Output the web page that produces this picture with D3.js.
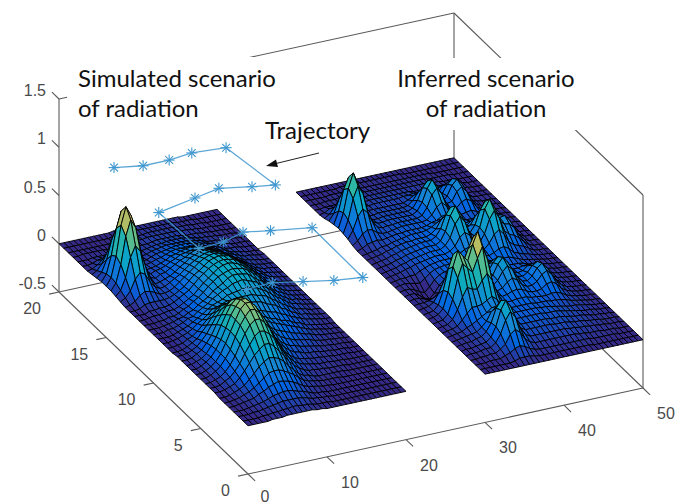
<!DOCTYPE html>
<html>
<head>
<meta charset="utf-8">
<script src="https://cdn.jsdelivr.net/npm/d3@7"></script>
<style>
  html, body { margin: 0; padding: 0; background: #fff; }
  svg { display: block; }
</style>
</head>
<body>
<div id="chart"></div>
<script>
const xTicks = [0, 10, 20, 30, 40, 50];
const yTicks = [0, 5, 10, 15, 20];
const zTicks = [-0.5, 0, 0.5, 1, 1.5];

// x and y of the 33 x 41 mesh rows, per surface
const leftX = [0, 20];
const rightX = [30, 50];
const surfaceY = [0, 20];

// surface heights, in hundredths; first row is y = 0
const simulated = [
  [0,0,0,0,0,1,1,1,2,2,2,2,2,2,1,1,0,0,0,0,0,0,0,0,0,0,0,0,0,0,0,0,0],
  [0,0,0,0,1,1,2,2,3,3,4,4,3,3,2,1,1,1,0,0,0,0,0,0,0,0,0,0,0,0,0,0,0],
  [0,0,0,1,1,2,3,4,5,6,6,6,6,5,4,2,2,1,1,0,0,0,0,0,0,0,0,0,0,0,0,0,0],
  [0,0,0,1,2,3,4,6,8,9,10,10,9,7,6,4,2,1,1,0,0,0,0,0,0,0,0,0,0,0,0,0,0],
  [0,0,1,2,3,4,7,9,12,14,16,15,14,12,9,6,4,3,2,1,1,0,0,0,0,0,0,0,0,0,0,0,0],
  [0,0,1,2,4,6,9,13,17,21,22,22,20,17,14,10,6,4,3,2,1,1,1,1,0,0,0,0,0,0,0,0,0],
  [0,0,1,3,5,8,13,18,24,28,31,30,28,24,18,13,8,5,4,2,1,1,1,1,1,1,0,0,0,0,0,0,0],
  [1,1,2,4,6,11,17,24,31,36,40,40,36,30,24,17,12,8,5,3,3,2,2,1,1,1,1,0,0,0,0,0,0],
  [1,1,2,5,8,13,20,29,37,45,49,48,44,38,29,21,15,10,7,5,4,3,2,2,2,1,1,1,0,0,0,0,0],
  [1,1,3,5,9,15,23,34,44,52,56,56,51,44,34,25,17,12,8,6,5,4,3,3,2,2,1,1,1,1,0,0,0],
  [1,1,3,6,10,17,25,37,48,56,62,61,56,49,38,28,20,15,11,8,7,5,4,4,3,2,2,1,1,1,0,0,0],
  [1,1,3,6,10,17,27,38,49,59,64,64,59,51,41,31,22,17,13,10,9,7,6,5,4,3,2,2,1,1,1,0,0],
  [1,1,3,6,10,17,26,37,49,57,63,63,58,52,42,32,25,20,16,13,11,9,8,7,6,4,3,2,2,1,1,0,0],
  [1,1,3,5,9,16,24,35,45,54,59,59,56,50,41,33,26,22,18,16,14,12,10,9,7,6,4,3,2,2,1,1,0],
  [1,1,2,5,8,14,21,31,40,48,53,54,52,47,40,33,28,24,21,19,17,15,13,11,9,7,5,4,3,2,1,1,0],
  [1,1,2,4,7,12,18,26,34,40,44,46,44,40,36,30,27,24,22,19,18,15,14,12,9,8,5,4,3,2,1,1,0],
  [0,0,1,3,6,9,15,21,28,33,38,39,38,37,33,31,27,25,24,22,20,19,16,14,11,9,7,5,4,3,2,1,1],
  [0,0,1,2,5,7,11,16,21,26,30,32,33,33,32,30,29,29,28,27,24,22,20,16,14,10,8,5,5,3,2,1,1],
  [0,0,1,2,4,6,9,13,16,20,25,26,28,30,30,31,31,31,31,29,28,26,22,19,15,12,9,6,5,4,2,2,1],
  [0,0,0,1,3,5,7,10,13,16,20,23,25,27,30,31,32,33,34,32,31,28,25,21,17,14,10,7,6,4,3,2,1],
  [0,0,0,2,2,4,6,9,10,14,17,20,24,27,30,32,35,36,37,35,33,31,26,23,19,14,11,8,5,5,3,2,1],
  [0,0,0,1,2,3,5,6,9,11,15,18,21,26,29,32,36,38,38,37,36,32,28,25,20,15,11,9,6,4,3,2,1],
  [0,0,0,1,1,3,3,5,8,10,14,17,21,26,30,34,36,38,39,38,37,34,30,26,20,16,12,9,6,4,3,2,1],
  [0,0,1,2,2,3,4,4,6,9,12,15,20,25,29,33,37,39,40,39,37,34,30,26,20,16,12,9,6,4,3,2,1],
  [0,0,0,2,2,3,3,4,6,9,12,15,20,25,29,33,36,38,39,38,37,34,30,26,20,16,12,9,6,4,3,2,1],
  [0,0,1,4,5,5,5,5,6,8,11,14,19,24,27,31,35,37,38,37,36,32,28,25,20,15,11,9,6,4,3,2,1],
  [0,1,4,9,12,11,9,6,6,7,10,14,18,22,26,30,33,35,36,35,33,31,26,23,19,14,11,8,5,4,3,2,1],
  [1,4,10,21,27,24,15,9,6,7,10,13,16,20,24,27,30,32,33,32,31,28,25,21,17,14,10,7,5,3,3,2,1],
  [2,7,19,39,50,43,27,13,6,7,9,11,14,18,21,25,27,29,30,29,27,25,22,19,15,12,9,6,4,3,2,2,1],
  [3,10,28,56,72,63,38,18,8,6,9,10,13,16,19,21,24,26,26,26,24,22,20,16,13,10,8,5,4,3,2,1,1],
  [3,11,32,63,81,71,42,19,7,6,8,9,11,14,16,19,20,21,22,21,20,19,16,14,11,9,7,5,3,3,2,1,1],
  [3,10,28,55,72,63,37,17,7,5,6,7,9,11,14,15,17,18,19,18,17,15,14,12,9,8,5,4,3,2,1,1,0],
  [2,7,19,38,49,43,26,11,4,4,5,6,8,9,11,13,14,14,14,14,14,13,11,9,8,6,4,3,3,2,1,1,0],
  [1,4,10,20,26,24,14,7,3,3,3,4,6,8,9,10,11,12,12,12,11,10,9,8,6,5,3,3,2,1,1,1,0],
  [0,1,4,8,11,9,7,3,2,2,3,3,4,6,7,8,9,9,9,9,9,8,7,6,4,3,3,2,2,1,1,0,0],
  [0,0,1,3,4,3,3,2,1,2,2,3,3,4,5,6,6,7,7,7,7,6,5,4,3,3,2,2,1,1,1,0,0],
  [0,0,0,1,1,1,1,1,1,1,2,2,3,3,3,4,5,5,5,5,5,4,3,3,3,2,2,1,1,1,0,0,0],
  [0,0,1,1,1,1,1,0,1,1,1,2,2,3,3,4,4,4,4,4,4,4,3,3,2,2,1,1,1,0,0,0,0],
  [0,0,0,0,0,0,0,0,0,1,1,1,1,2,2,2,3,3,3,3,3,3,2,2,2,1,1,1,0,0,0,0,0],
  [0,0,0,0,0,0,0,0,0,0,1,1,1,1,1,2,2,2,2,2,2,2,2,1,1,1,1,0,0,0,0,0,0],
  [0,0,0,0,0,0,0,0,0,0,0,1,1,1,1,1,1,1,1,1,1,1,1,1,1,0,0,0,0,0,0,0,0]
];

const inferred = [
  [0,0,0,0,0,0,0,0,0,0,0,0,0,0,0,0,0,0,0,0,0,0,0,0,0,0,0,0,0,0,0,0,0],
  [0,0,0,0,0,0,0,1,3,3,3,2,1,1,1,1,1,1,1,1,1,1,1,0,0,0,0,0,0,0,0,0,0],
  [0,0,0,1,1,1,3,5,8,10,8,5,3,2,2,2,2,2,2,2,2,2,2,2,1,1,1,1,1,0,0,0,0],
  [0,0,1,1,2,2,5,9,18,22,18,10,6,4,4,4,4,4,4,4,4,4,3,3,2,2,2,1,1,1,0,0,0],
  [0,1,1,2,3,3,7,15,28,36,29,16,9,6,6,6,6,6,6,6,6,5,5,4,4,3,3,2,2,1,1,1,0],
  [0,1,1,2,3,4,8,18,34,43,35,20,11,8,8,8,8,8,8,7,7,7,6,5,5,4,3,3,2,1,1,1,0],
  [0,1,2,2,4,5,9,17,31,38,32,19,12,9,9,9,9,9,9,8,8,8,7,6,5,5,4,3,2,2,1,1,0],
  [0,1,2,3,4,5,9,14,23,27,25,17,12,10,10,10,10,10,10,9,9,9,8,7,6,5,4,3,3,2,1,1,0],
  [0,1,2,3,6,8,11,14,17,21,21,17,13,11,11,11,11,11,11,10,10,9,8,7,6,5,5,4,3,2,1,1,0],
  [0,1,2,4,9,15,20,20,21,24,27,23,16,12,11,11,11,11,11,10,10,10,9,9,8,7,5,4,3,2,1,1,0],
  [0,1,2,6,15,27,36,33,32,40,46,38,24,15,12,12,13,13,13,11,11,10,10,11,11,9,6,4,3,2,1,1,0],
  [0,1,2,7,21,42,56,50,45,58,69,55,31,17,13,14,16,17,16,13,11,11,12,16,17,14,8,5,3,2,1,1,0],
  [0,1,3,8,24,49,65,58,52,68,80,64,35,18,14,16,21,24,21,15,12,12,15,21,24,19,11,6,3,2,1,1,0],
  [0,1,2,7,21,42,56,50,45,58,69,55,31,17,15,19,27,32,27,18,13,12,16,23,27,21,12,6,3,2,1,1,0],
  [0,1,2,5,13,24,34,32,32,40,46,38,24,15,14,20,30,36,30,19,13,12,15,21,24,19,11,6,3,2,1,1,0],
  [0,1,1,2,4,8,15,17,18,23,26,23,17,13,14,19,27,32,27,18,13,11,12,16,17,14,8,5,3,2,1,1,0],
  [0,1,1,-1,-3,-3,2,8,11,14,16,15,13,12,13,16,21,24,21,15,12,10,10,11,11,9,6,4,3,2,1,1,0],
  [0,1,1,-2,-6,-8,-3,4,9,11,13,12,12,12,12,14,16,17,16,13,11,10,9,9,8,6,5,4,3,2,1,1,0],
  [0,1,1,-1,-4,-6,-1,5,9,11,12,12,12,12,12,12,13,13,13,11,12,12,12,10,8,6,5,4,3,2,1,1,0],
  [0,1,2,1,0,-1,3,7,10,11,12,12,12,12,13,14,14,14,13,12,14,17,18,15,10,8,6,5,3,2,1,1,0],
  [0,1,2,2,3,3,6,8,10,11,12,12,12,13,15,18,20,18,15,14,19,27,31,25,16,12,10,8,5,2,1,1,0],
  [0,1,2,3,5,6,8,9,10,11,12,12,12,14,18,26,30,26,18,16,24,38,46,37,23,18,16,12,7,3,1,1,0],
  [0,1,2,3,5,6,8,9,10,11,12,12,12,15,22,35,42,35,22,18,26,44,53,43,28,24,23,18,9,4,1,1,0],
  [0,1,2,3,5,6,8,9,10,11,12,12,12,15,24,39,48,39,24,17,24,38,46,38,27,26,27,21,10,4,1,1,0],
  [0,1,2,3,5,6,8,9,10,11,12,12,12,15,22,35,42,35,22,16,19,27,31,27,21,22,23,18,9,4,1,1,0],
  [0,1,2,3,5,6,8,9,10,10,11,11,11,13,17,25,29,25,17,13,13,17,18,16,14,15,16,12,7,3,1,1,0],
  [0,1,2,3,5,5,7,8,9,10,11,11,11,12,14,17,20,18,16,12,12,11,11,9,9,9,10,8,5,2,1,1,0],
  [0,2,5,6,7,6,7,8,9,9,10,10,10,10,11,13,14,17,18,14,11,10,8,8,8,6,4,3,3,2,1,1,0],
  [1,5,11,14,13,9,7,7,8,9,10,10,10,10,10,11,15,22,26,21,14,10,9,10,11,9,6,4,2,2,1,1,0],
  [3,11,24,31,26,15,9,7,8,8,9,9,9,9,9,11,18,30,36,29,17,11,11,16,18,15,8,4,2,2,1,1,0],
  [4,17,38,50,41,20,10,7,7,8,8,8,8,8,8,11,19,32,40,32,19,12,13,22,26,20,11,5,2,1,1,1,0],
  [5,20,44,59,46,23,10,6,6,7,7,7,7,7,7,9,16,28,34,28,16,8,14,24,29,23,12,4,2,1,1,1,0],
  [4,17,38,50,40,19,8,5,5,6,6,6,6,6,6,7,11,18,22,18,11,6,12,20,25,19,10,4,2,1,1,1,0],
  [3,10,23,30,24,13,7,4,5,5,5,5,5,5,5,5,7,10,12,10,7,6,8,14,16,13,6,3,1,1,0,0,0],
  [1,4,10,13,11,6,4,4,4,4,5,5,5,5,5,5,6,6,7,5,4,4,6,7,8,6,4,2,1,1,0,0,0],
  [0,1,4,4,4,3,2,3,3,3,4,4,4,4,4,4,4,4,4,3,3,3,3,3,3,3,2,1,1,1,0,0,0],
  [0,0,1,1,1,2,2,2,3,3,3,3,3,3,3,3,3,3,3,3,3,3,3,2,2,2,1,1,1,0,0,0,0],
  [0,0,0,1,1,1,2,2,2,2,2,2,2,2,2,2,2,2,2,2,2,2,2,2,1,1,1,1,1,0,0,0,0],
  [0,0,0,0,0,1,1,1,1,1,1,1,1,1,1,1,1,1,1,1,1,1,1,1,1,1,0,0,0,0,0,0,0],
  [0,0,0,0,0,0,0,0,1,1,1,1,1,1,1,1,1,1,1,1,1,0,0,0,0,0,0,0,0,0,0,0,0],
  [0,0,0,0,0,0,0,0,0,0,0,0,0,0,0,0,0,0,0,0,0,0,0,0,0,0,0,0,0,0,0,0,0]
];

const trajectoryX = [3.5,6.7,10,13.1,17.2,18.3,15.7,12.1,8.6,3.3,3.6,6.8,9.9,12.9,17.5,17.4,14.1,10.8,7.5,4.1];
const trajectoryY = [17.1,16.7,16.7,16.9,16.7,12.4,12.7,13.2,12.8,12.2,8.2,8.3,8.8,8.4,7.85,2.4,2.7,3.2,3.7,3.6];
const trajectoryZ = 1;

const parula = ["#352a87","#0363e1","#1485d4","#06a7c6","#38b99e","#92bf73","#d9ba56","#fcce2e","#f9fb0e"];

const breedte = 678, hoogte = 504;

const svg = d3.select("#chart").append("svg")
  .attr("width", breedte)
  .attr("height", hoogte);

svg.append("defs").append("filter").attr("id", "zacht")
  .append("feGaussianBlur").attr("stdDeviation", 0.4);

// oblique projection of the 3D box: each axis moves the point on the screen
const xToPx = d3.scaleLinear().domain([0, 50]).range([248, 643]);
const xToPy = d3.scaleLinear().domain([0, 50]).range([0, -86]);
const yToPx = d3.scaleLinear().domain([0, 20]).range([0, -189]);
const yToPy = d3.scaleLinear().domain([0, 20]).range([0, -182]);
const zToPy = d3.scaleLinear().domain([-0.5, 1.5]).range([474, 281]);

const project = (x, y, z) => [xToPx(x) + yToPx(y), zToPy(z) + xToPy(x) + yToPy(y)];

const colour = d3.scaleLinear()
  .domain(parula.map((_, i) => i / (parula.length - 1)))
  .range(parula)
  .clamp(true);

const boxColour = "#5a5a5a";
const boxLine = (a, b) => svg.append("line")
  .attr("x1", project(...a)[0]).attr("y1", project(...a)[1])
  .attr("x2", project(...b)[0]).attr("y2", project(...b)[1])
  .attr("stroke", boxColour).attr("stroke-width", 1.1);

// back of the box
boxLine([0, 20, -0.5], [50, 20, -0.5]);
boxLine([50, 20, -0.5], [50, 0, -0.5]);
boxLine([50, 20, -0.5], [50, 20, 1.5]);
boxLine([0, 20, 1.5], [50, 20, 1.5]);
boxLine([50, 20, 1.5], [50, 0, 1.5]);
boxLine([0, 20, -0.5], [0, 20, 1.5]);
boxLine([50, 0, -0.5], [50, 0, 1.5]);

function drawSurface(heights, xDomain) {
  const rows = heights.length, cols = heights[0].length;
  const colX = d3.scaleLinear().domain([0, cols - 1]).range(xDomain);
  const rowY = d3.scaleLinear().domain([0, rows - 1]).range(surfaceY);
  const cells = [];
  // far cells first so the near ones paint over them
  for (let j = rows - 2; j >= 0; j--) {
    for (let i = cols - 2; i >= 0; i--) {
      const corners = [[i, j], [i + 1, j], [i + 1, j + 1], [i, j + 1]];
      cells.push({
        points: corners.map(([a, b]) => project(colX(a), rowY(b), heights[b][a] / 100)),
        z: d3.mean(corners, ([a, b]) => heights[b][a] / 100)
      });
    }
  }
  svg.append("g")
    .attr("filter", "url(#zacht)")
    .selectAll("path")
    .data(cells)
    .join("path")
    .attr("d", d => "M" + d.points.join("L") + "Z")
    .attr("fill", d => colour(d.z))
    .attr("stroke", "#000")
    .attr("stroke-opacity", 0.9)
    .attr("stroke-width", 1);
}

drawSurface(inferred, rightX);
drawSurface(simulated, leftX);

// trajectory
const trajectoryPoints = trajectoryX.map((x, i) => project(x, trajectoryY[i], trajectoryZ));
const trajectoryColour = "#3f97cf";
svg.append("path")
  .attr("d", d3.line()(trajectoryPoints))
  .attr("fill", "none")
  .attr("stroke", trajectoryColour)
  .attr("stroke-width", 1.3)
  .attr("opacity", 0.85);

const star = svg.append("g").selectAll("g")
  .data(trajectoryPoints)
  .join("g")
  .attr("transform", d => `translate(${d[0]},${d[1]})`);
[0, 45, 90, 135].forEach(hoek => {
  star.append("line")
    .attr("x1", -5.5).attr("x2", 5.5)
    .attr("transform", `rotate(${hoek})`)
    .attr("stroke", trajectoryColour)
    .attr("stroke-width", 1.1);
});

// front axes with ticks
boxLine([0, 20, -0.5], [0, 0, -0.5]);
boxLine([0, 0, -0.5], [50, 0, -0.5]);

const tickLabel = (x, y, text, anchor) => svg.append("text")
  .attr("x", x).attr("y", y)
  .attr("text-anchor", anchor)
  .attr("font-family", "'Liberation Sans', Arial, sans-serif")
  .attr("font-size", 16)
  .attr("fill", "#4a4a4a")
  .text(text);

xTicks.forEach(t => {
  boxLine([t, 0, -0.5], [t, -0.75, -0.5]);
  const [px, py] = project(t, 0, -0.5);
  tickLabel(px + (t === 0 ? 17 : 23), py + (t === 0 ? 28 : 31), t, "middle");
});
yTicks.forEach(t => {
  boxLine([0, t, -0.5], [-1.25, t, -0.5]);
  const [px, py] = project(0, t, -0.5);
  tickLabel(px - 18, py + 22, t, "end");
});
zTicks.forEach(t => {
  boxLine([0, 20, t], [0, 20.75, t]);
  const [, py] = project(0, 20, t);
  tickLabel(46, py - 3, t, "end");
});

// white text boxes cover the box lines behind them
svg.append("rect").attr("x", 67).attr("y", 57).attr("width", 218).attr("height", 68).attr("fill", "#fff");
svg.append("rect").attr("x", 390).attr("y", 58).attr("width", 190).attr("height", 72).attr("fill", "#fff");

const note = (x, y, text, anchor) => svg.append("text")
  .attr("x", x).attr("y", y)
  .attr("text-anchor", anchor || "start")
  .attr("font-family", "Lato, 'Open Sans', sans-serif")
  .attr("font-size", 24)
  .attr("fill", "#111")
  .text(text);

note(78, 87, "Simulated scenario");
note(78, 117, "of radiation");
note(486, 87, "Inferred scenario", "middle");
note(486, 117, "of radiation", "middle");
note(265, 139, "Trajectory");

// arrow from the Trajectory label
svg.append("line")
  .attr("x1", 319).attr("y1", 153).attr("x2", 274).attr("y2", 164)
  .attr("stroke", "#222").attr("stroke-width", 1);
svg.append("path")
  .attr("d", "M266,166L276,159.5L278,167Z")
  .attr("fill", "#111");
</script>
</body>
</html>
